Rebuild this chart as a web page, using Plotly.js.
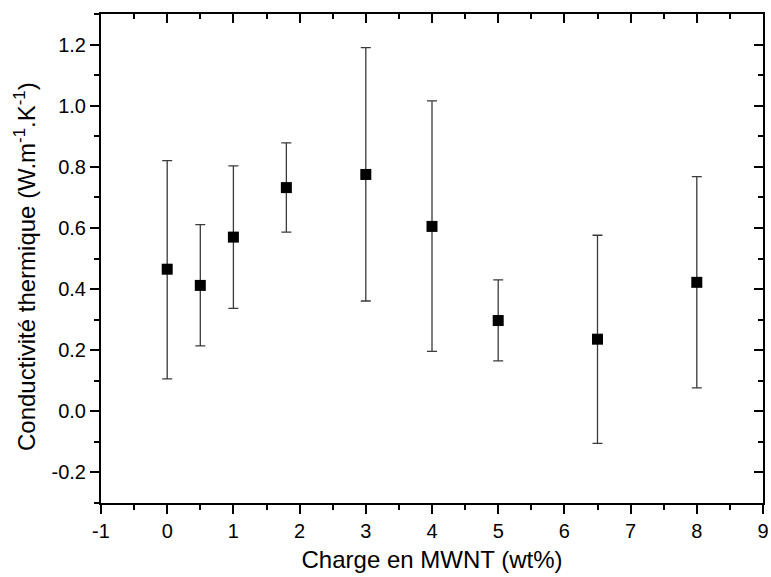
<!DOCTYPE html>
<html>
<head>
<meta charset="utf-8">
<script src="https://cdn.plot.ly/plotly-3.0.1.min.js"></script>
<style>html,body{margin:0;padding:0;background:#fff;}#chart{width:771px;height:577px;}</style>
</head>
<body>
<div id="chart"></div>
<script>
const xCharge = [0, 0.5, 1, 1.8, 3, 4, 5, 6.5, 8];
const yCond   = [0.465, 0.412, 0.570, 0.732, 0.775, 0.605, 0.297, 0.236, 0.422];
const yUpper  = [0.820, 0.611, 0.803, 0.878, 1.190, 1.016, 0.430, 0.576, 0.768];
const yLower  = [0.106, 0.214, 0.337, 0.586, 0.361, 0.196, 0.165, -0.105, 0.077];
const xTicks = [-1, 0, 1, 2, 3, 4, 5, 6, 7, 8, 9];
const yTicks = [-0.2, 0.0, 0.2, 0.4, 0.6, 0.8, 1.0, 1.2];
const xTitle = 'Charge en MWNT (wt%)';
const yTitle = 'Conductivité thermique (W.m<sup>-1</sup>.K<sup>-1</sup>)';

const errPlus = yUpper.map((u, i) => u - yCond[i]);
const errMinus = yLower.map((l, i) => yCond[i] - l);

const FONT = 'Arial, "Liberation Sans", sans-serif';

const main = {
  x: xCharge, y: yCond, type: 'scatter', mode: 'markers',
  marker: {symbol: 'square', size: 11, color: '#000'},
  error_y: {type: 'data', symmetric: false, array: errPlus, arrayminus: errMinus,
            color: '#3a3a3a', thickness: 1.3, width: 5},
  showlegend: false, hoverinfo: 'x+y'
};
const dummy = {x: [], y: [], xaxis: 'x2', yaxis: 'y2', type: 'scatter', mode: 'markers',
  showlegend: false, hoverinfo: 'skip'};

const common = {showgrid: false, zeroline: false, showline: true, linecolor: '#000', linewidth: 2,
  tickcolor: '#000', tickwidth: 2, ticklen: 9, tickfont: {family: FONT, size: 20, color: '#000'}};

const layout = {
  width: 771, height: 577,
  margin: {l: 101, r: 8, t: 14, b: 74},
  paper_bgcolor: '#fff', plot_bgcolor: '#fff',
  font: {family: FONT, color: '#000'},
  xaxis: Object.assign({}, common, {
    range: [-1, 9], tickvals: xTicks, ticktext: xTicks.map(String), ticks: 'outside',
    minor: {dtick: 0.5, tick0: 0, ticks: 'outside', ticklen: 5, tickwidth: 2, tickcolor: '#000'},
    title: {text: xTitle, font: {family: FONT, size: 24, color: '#000'}, standoff: 10},
    anchor: 'y'
  }),
  yaxis: Object.assign({}, common, {
    range: [-0.3, 1.3], tickvals: yTicks, ticktext: yTicks.map(v => v.toFixed(1)), ticks: 'outside',
    minor: {dtick: 0.1, tick0: 0, ticks: 'outside', ticklen: 5, tickwidth: 2, tickcolor: '#000'},
    anchor: 'x'
  }),
  xaxis2: Object.assign({}, common, {
    overlaying: 'x', side: 'top', anchor: 'y', range: [-1, 9], tickvals: xTicks, ticks: 'inside',
    showticklabels: false,
    minor: {dtick: 0.5, tick0: 0, ticks: 'inside', ticklen: 5, tickwidth: 2, tickcolor: '#000'}
  }),
  yaxis2: Object.assign({}, common, {
    overlaying: 'y', side: 'right', anchor: 'x', range: [-0.3, 1.3], tickvals: yTicks, ticks: 'inside',
    showticklabels: false,
    minor: {dtick: 0.1, tick0: 0, ticks: 'inside', ticklen: 5, tickwidth: 2, tickcolor: '#000'}
  }),
  annotations: [{
    text: yTitle, textangle: -90, showarrow: false,
    xref: 'paper', yref: 'paper', x: (25 - 101) / 662, y: (503 - 267) / 489,
    xanchor: 'center', yanchor: 'middle',
    font: {family: FONT, size: 24, color: '#000'}
  }]
};

Plotly.newPlot('chart', [main, dummy], layout, {displayModeBar: false, staticPlot: true});
</script>
</body>
</html>
